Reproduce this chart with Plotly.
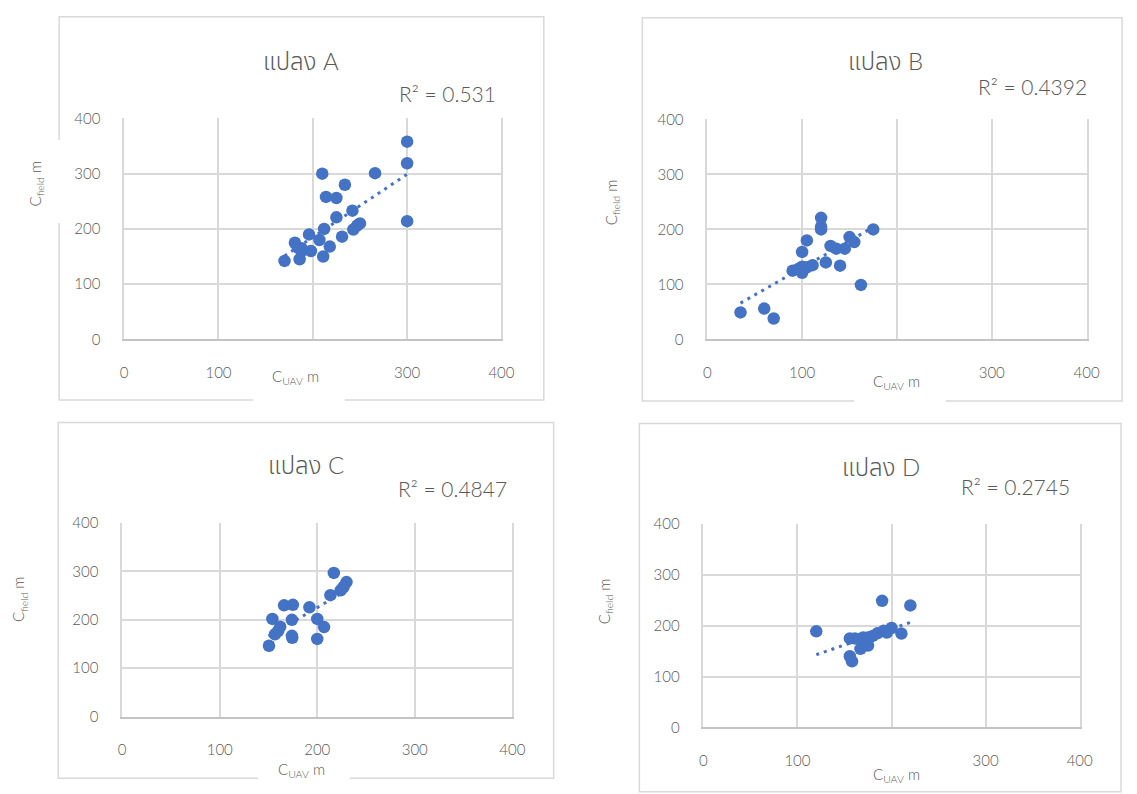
import plotly.graph_objects as go

W, H = 1137, 794

# ---------------- data ----------------
panel_titles = ["แปลง A", "แปลง B", "แปลง C", "แปลง D"]
r2_labels = ["R² = 0.531", "R² = 0.4392", "R² = 0.4847", "R² = 0.2745"]
tick_vals = [0, 100, 200, 300, 400]

a_cuav = [300, 300, 300, 210, 266, 234, 214, 225, 242, 225, 212, 250, 247, 243, 196, 231, 207, 218, 198, 211, 181, 184, 188, 186, 170, 188]
a_cfield = [358, 319, 214, 300, 301, 280, 258, 256, 233, 221, 200, 210, 206, 199, 190, 186, 180, 168, 160, 150, 175, 166, 160, 145, 142, 165]
a_trend_x = [170, 300]
a_trend_y = [151, 299]

b_cuav = [120, 120, 120, 175, 150, 155, 105, 100, 130, 136, 145, 125, 140, 162, 90, 100, 100, 105, 111, 96, 35, 60, 70]
b_cfield = [221, 205, 200, 200, 186, 177, 180, 159, 170, 165, 165, 140, 134, 99, 125, 132, 121, 131, 135, 128, 49, 56, 38]
b_trend_x = [35, 175]
b_trend_y = [66, 204]

c_cuav = [217, 230, 227, 224, 213.5, 192, 166, 175, 154, 174, 200, 207, 162, 160, 156.6, 174.4, 174, 200, 150.5]
c_cfield = [297, 278, 268, 261, 251, 226, 230, 231, 202, 200, 202, 185, 186, 177, 170, 163, 167, 160.6, 146.5]
c_trend_x = [150, 230]
c_trend_y = [166, 261]

d_cuav = [190, 220, 120, 200, 210.5, 191.6, 185, 180, 175, 170, 161, 155.7, 175, 167, 155.7, 158, 195, 166]
d_cfield = [249, 240, 189, 195.5, 184.6, 190, 185, 180, 177, 177, 175, 175, 161, 154.5, 140, 130, 186.5, 174]
d_trend_x = [120, 220]
d_trend_y = [143, 206.5]

# x tick labels shown per panel (some are hidden in the original scan)
a_xticktext = ["0", "100", "", "300", "400"]
b_xticktext = ["0", "100", "", "300", "400"]
c_xticktext = ["0", "100", "200", "300", "400"]
d_xticktext = ["0", "100", "", "300", "400"]

# ---------------- layout geometry (pixels) ----------------
def fx(px):
    return px / W

def fy(py):
    return 1 - py / H

BLUE = "#4472C4"
GRAY_TXT = "#595959"
GRID = "#d9d9d9"
FONT = "Leelawadee UI, Tahoma, Lato, 'Noto Sans Thai', Loma, Garuda, sans-serif"

panels = [
    dict(x=a_cuav, y=a_cfield, tx=a_trend_x, ty=a_trend_y, xt=a_xticktext,
         plot=(122, 505, 111, 337), box=(56, 548, 7, 399), title=(302, 52), r2=(501, 85),
         xtitle=(296, 376), ytitle=(32, 178), gap=(253, 346)),
    dict(x=b_cuav, y=b_cfield, tx=b_trend_x, ty=b_trend_y, xt=b_xticktext,
         plot=(714, 1099, 112, 337), box=(648, 1135, 8, 400), title=(895, 52), r2=(1101, 78),
         xtitle=(906, 381), ytitle=(617, 197), gap=(863, 956)),
    dict(x=c_cuav, y=c_cfield, tx=c_trend_x, ty=c_trend_y, xt=c_xticktext,
         plot=(120, 516, 525, 723), box=(55, 558, 422, 786), title=(307, 465), r2=(513, 490),
         xtitle=(302, 778), ytitle=(16, 603), gap=(258, 351)),
    dict(x=d_cuav, y=d_cfield, tx=d_trend_x, ty=d_trend_y, xt=d_xticktext,
         plot=(710, 1092, 526, 734), box=(645, 1134, 423, 800), title=(890, 467), r2=(1084, 488),
         xtitle=(906, 783), ytitle=(610, 605), gap=None),
]

fig = go.Figure()
annotations = []
shapes = []
layout_axes = {}

for i, p in enumerate(panels):
    n = "" if i == 0 else str(i + 1)
    xa, ya = "x" + n, "y" + n
    fig.add_trace(go.Scatter(
        x=p["tx"], y=p["ty"], mode="lines", xaxis=xa, yaxis=ya,
        line=dict(color=BLUE, width=3, dash="3px,5px"), hoverinfo="skip", showlegend=False))
    fig.add_trace(go.Scatter(
        x=p["x"], y=p["y"], mode="markers", xaxis=xa, yaxis=ya,
        marker=dict(color=BLUE, size=12.5, line=dict(width=0)), showlegend=False))

    x0, x1, y0, y1 = p["plot"]
    common = dict(range=[0, 400], tickvals=tick_vals, showgrid=True, gridcolor=GRID, gridwidth=1.5,
                  zeroline=False, showline=True, linewidth=1.5,
                  ticks="", tickfont=dict(family=FONT, size=15, color=GRAY_TXT, weight=300),
                  fixedrange=True)
    layout_axes["xaxis" + n] = dict(common, domain=[fx(x0), fx(x1)], anchor=ya,
                                    ticktext=p["xt"], ticklabelstandoff=19,
                                    linecolor="#c4c4c4", mirror=False)
    layout_axes["yaxis" + n] = dict(common, domain=[fy(y1), fy(y0)], anchor=xa,
                                    ticklabelstandoff=19, linecolor=GRID, mirror=True)

    bx0, bx1, by0, by1 = p["box"]
    shapes.append(dict(type="rect", xref="paper", yref="paper",
                       x0=fx(bx0), x1=fx(bx1), y0=fy(by1), y1=fy(by0),
                       line=dict(color=GRID, width=1.5), fillcolor="rgba(0,0,0,0)", layer="below"))
    if p["gap"]:
        g0, g1 = p["gap"]
        shapes.append(dict(type="rect", xref="paper", yref="paper",
                           x0=fx(g0), x1=fx(g1), y0=fy(by1 + 3), y1=fy(by1 - 3),
                           line=dict(width=0), fillcolor="white", layer="below"))

    tx, ty = p["title"]
    annotations.append(dict(text=panel_titles[i], x=fx(tx), y=fy(ty), xref="paper", yref="paper",
                            xanchor="center", yanchor="middle", showarrow=False,
                            font=dict(family=FONT, size=24, color=GRAY_TXT, weight=300)))
    rx, ry = p["r2"]
    annotations.append(dict(text=r2_labels[i], x=fx(rx), y=fy(ry), xref="paper", yref="paper",
                            xanchor="right", yanchor="middle", showarrow=False,
                            font=dict(family=FONT, size=21, color=GRAY_TXT, weight=300)))
    xtx, xty = p["xtitle"]
    annotations.append(dict(text="C<sub>UAV</sub> m", x=fx(xtx), y=fy(xty), xref="paper", yref="paper",
                            xanchor="center", yanchor="middle", showarrow=False,
                            font=dict(family=FONT, size=15, color=GRAY_TXT, weight=300)))
    ytx, yty = p["ytitle"]
    annotations.append(dict(text="C<sub>field</sub> m", x=fx(ytx), y=fy(yty), xref="paper", yref="paper",
                            xanchor="center", yanchor="middle", showarrow=False, textangle=-90,
                            font=dict(family=FONT, size=15, color=GRAY_TXT, weight=300)))

# white gap in panel A's left border (scan artefact)
shapes.append(dict(type="rect", xref="paper", yref="paper",
                   x0=fx(53), x1=fx(59), y0=fy(218), y1=fy(133),
                   line=dict(width=0), fillcolor="white", layer="below"))

fig.update_layout(
    width=W, height=H, margin=dict(l=0, r=0, t=0, b=0),
    paper_bgcolor="white", plot_bgcolor="white",
    font=dict(family=FONT, color=GRAY_TXT),
    annotations=annotations, shapes=shapes, showlegend=False,
    **layout_axes,
)

fig.write_html("out.html")
